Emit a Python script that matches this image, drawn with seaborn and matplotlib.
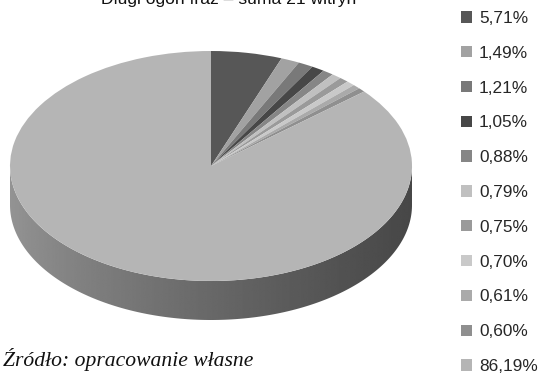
import numpy as np
import matplotlib
matplotlib.use("Agg")
import matplotlib.pyplot as plt
import matplotlib.transforms as mtransforms
from matplotlib.patches import Polygon
import seaborn as sns

# Share of the long tail of phrases, summed over 21 sites
shares = [5.71, 1.49, 1.21, 1.05, 0.88, 0.79, 0.75, 0.70, 0.61, 0.60, 86.19]
labels = [f"{v:.2f}".replace(".", ",") + "%" for v in shares]
slice_grays = ["#575757", "#a2a2a2", "#797979", "#474747", "#868686",
               "#c0c0c0", "#9a9a9a", "#c9c9c9", "#aaaaaa", "#8f8f8f", "#b5b5b5"]
title = "Długi ogon fraz – suma 21 witryn"
source = "Źródło: opracowanie własne"

sns.set_theme(style="white")
plt.rcParams["font.family"] = ["Liberation Sans", "DejaVu Sans"]

W, H = 541, 374
fig = plt.figure(figsize=(W / 100, H / 100), dpi=100)
ax = fig.add_axes([0, 0, 1, 1])
ax.set_xlim(0, W)
ax.set_ylim(0, H)
ax.set_axis_off()

# Tilted pie geometry (pixel units)
cx, cy = 211, H - 166
rx, ry = 201, 115
depth = 39

palette = sns.color_palette(slice_grays)

# Side wall of the disc: front half of the ellipse extruded downward
t = np.linspace(np.pi, 2 * np.pi, 200)
top_edge = np.column_stack([cx + rx * np.cos(t), cy + ry * np.sin(t)])
bot_edge = top_edge[::-1] - [0, depth]
side = Polygon(np.vstack([top_edge, bot_edge]), closed=True,
               facecolor="none", edgecolor="none")
ax.add_patch(side)
grad = np.power(np.linspace(0, 1, 256), 0.8)
grad = 0.58 - (0.58 - 0.28) * grad
img = ax.imshow(grad[np.newaxis, :], cmap="gray", vmin=0, vmax=1,
                extent=[cx - rx, cx + rx, cy - ry - depth, cy],
                aspect="auto", interpolation="bilinear", zorder=1)
img.set_clip_path(side)

# Top face: an ordinary pie squashed vertically into an ellipse
wedges, _ = ax.pie(shares, colors=palette, startangle=90, counterclock=False,
                   radius=rx, center=(cx, cy), frame=True,
                   wedgeprops=dict(linewidth=0, antialiased=True))
squash = (mtransforms.Affine2D().translate(-cx, -cy).scale(1, ry / rx)
          .translate(cx, cy))
for w in wedges:
    w.set_transform(squash + ax.transData)
    w.set_zorder(2)
ax.set_xlim(0, W)
ax.set_ylim(0, H)
ax.set_aspect("auto")
ax.set_axis_off()

ax.legend(wedges, labels, loc="upper left",
          bbox_to_anchor=(461 / W, (H - 11) / H), bbox_transform=fig.transFigure,
          frameon=False, fontsize=12.4, handlelength=0.64, handleheight=0.64,
          handletextpad=0.4, labelspacing=1.15, borderpad=0, borderaxespad=0)

fig.text(229 / W, (H - 4) / H, title, ha="center", va="baseline",
         fontsize=12.6, color="#111111")
fig.text(3 / W, 8 / H, source, ha="left", va="baseline", fontsize=15.6,
         family=["Liberation Serif", "DejaVu Serif"], style="italic",
         color="#111111")

fig.savefig("out.png", dpi=100)
